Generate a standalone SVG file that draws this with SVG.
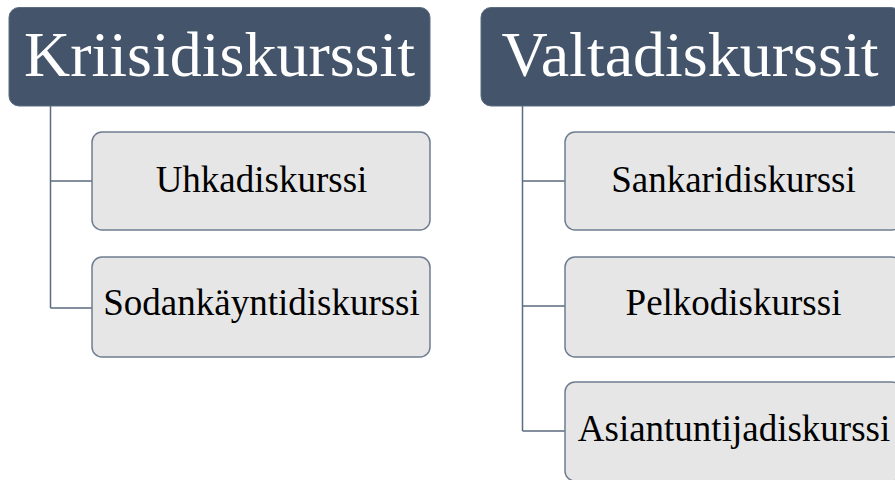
<svg xmlns="http://www.w3.org/2000/svg" width="895" height="480" viewBox="0 0 895 480">
<style>
.hdr{fill:#44546a;stroke:#5b6b80;stroke-width:1}
.child{fill:#e7e6e6;stroke:#6f7d91;stroke-width:1.5}
.conn{fill:none;stroke:#5b6b80;stroke-width:1.5}
</style>
<rect width="895" height="480" fill="#ffffff"/>
<g id="connectors">
<path class="conn" d="M50.5,106 V308 M50.5,181 H92 M50.5,308 H92"/>
<path class="conn" d="M522.5,106 V431 M522.5,181 H565 M522.5,306 H565 M522.5,431 H565"/>
</g>
<g font-family="'Liberation Serif', 'Times New Roman', serif" text-anchor="middle">
<g id="kriisidiskurssit">
<rect class="hdr" x="9" y="7.5" width="421" height="98.5" rx="10"/>
<text x="219.5" y="76" font-size="64" fill="#ffffff">Kriisidiskurssit</text>
</g>
<g id="uhkadiskurssi">
<rect class="child" x="92" y="132" width="338" height="98" rx="10"/>
<text x="261.5" y="192" font-size="37" fill="#000000">Uhkadiskurssi</text>
</g>
<g id="sodankayntidiskurssi">
<rect class="child" x="92" y="257" width="338" height="100" rx="10"/>
<text x="261.5" y="315" font-size="37" fill="#000000">Sodankäyntidiskurssi</text>
</g>
<g id="valtadiskurssit">
<rect class="hdr" x="481" y="7.5" width="420" height="98.5" rx="10"/>
<text x="690" y="76" font-size="64" fill="#ffffff">Valtadiskurssit</text>
</g>
<g id="sankaridiskurssi">
<rect class="child" x="565" y="132" width="337" height="98" rx="10"/>
<text x="733.5" y="192" font-size="37" fill="#000000">Sankaridiskurssi</text>
</g>
<g id="pelkodiskurssi">
<rect class="child" x="565" y="257" width="337" height="100" rx="10"/>
<text x="733.5" y="315" font-size="37" fill="#000000">Pelkodiskurssi</text>
</g>
<g id="asiantuntijadiskurssi">
<rect class="child" x="565" y="382" width="337" height="99" rx="10"/>
<text x="734" y="441" font-size="37" fill="#000000">Asiantuntijadiskurssi</text>
</g>
</g>
</svg>
